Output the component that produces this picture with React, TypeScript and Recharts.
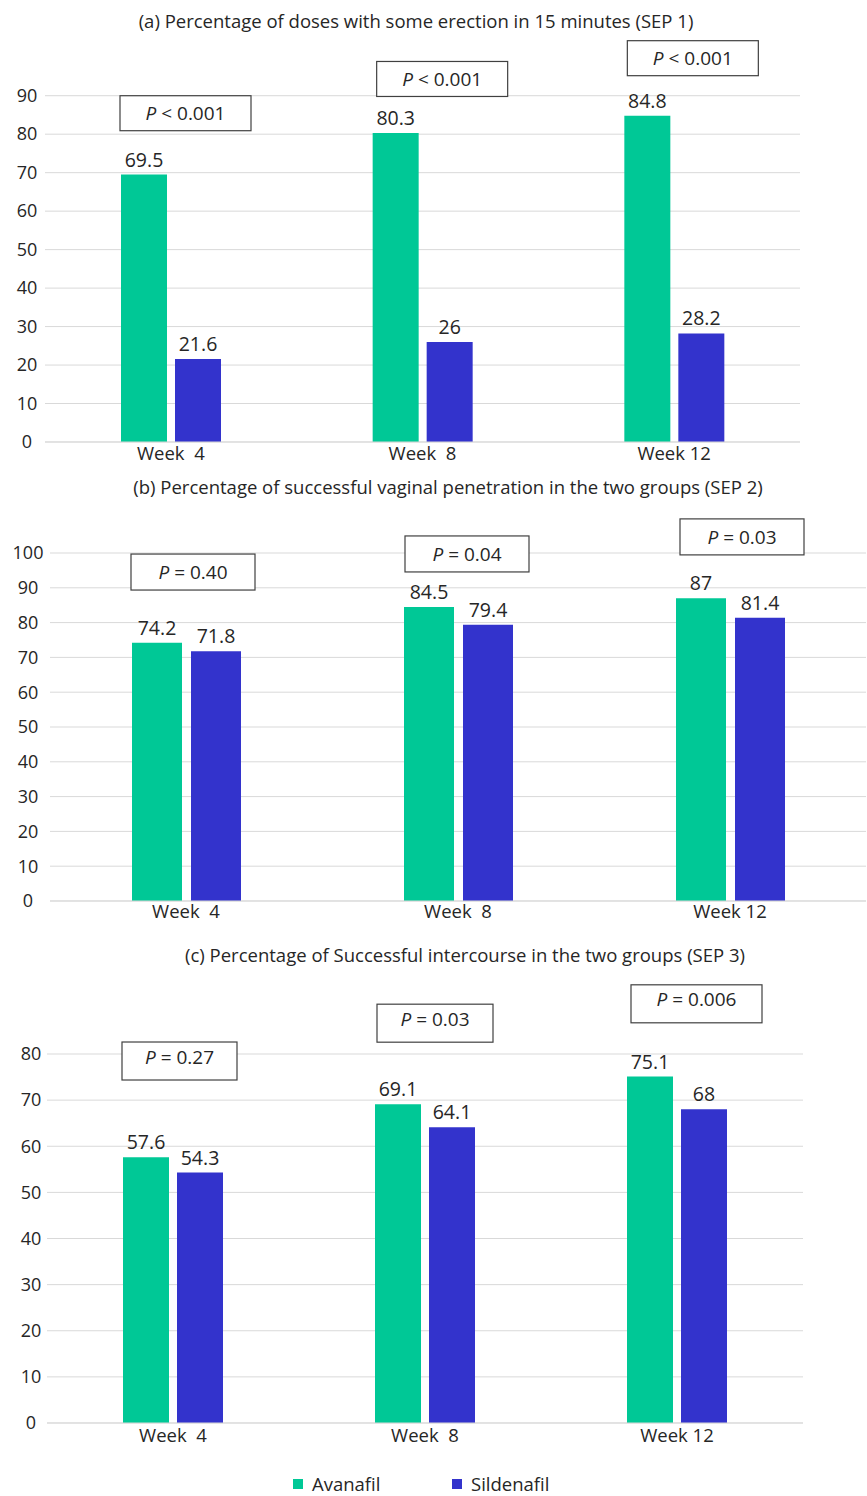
import React from "react";
import { Bar, BarChart, CartesianGrid, LabelList, XAxis, YAxis } from "recharts";

const weeks = ["Week  4", "Week  8", "Week 12"];

// (a) SEP 1
const sep1Avanafil = [69.5, 80.3, 84.8];
const sep1Sildenafil = [21.6, 26, 28.2];
const sep1P = ["< 0.001", "< 0.001", "< 0.001"];
const sep1Ticks = [0, 10, 20, 30, 40, 50, 60, 70, 80, 90];

// (b) SEP 2
const sep2Avanafil = [74.2, 84.5, 87];
const sep2Sildenafil = [71.8, 79.4, 81.4];
const sep2P = ["= 0.40", "= 0.04", "= 0.03"];
const sep2Ticks = [0, 10, 20, 30, 40, 50, 60, 70, 80, 90, 100];

// (c) SEP 3
const sep3Avanafil = [57.6, 69.1, 75.1];
const sep3Sildenafil = [54.3, 64.1, 68];
const sep3P = ["= 0.27", "= 0.03", "= 0.006"];
const sep3Ticks = [0, 10, 20, 30, 40, 50, 60, 70, 80];

const GREEN = "#00c896";
const BLUE = "#3333cc";
const TEXT = "#262626";
const GRID = "#d9d9d9";
const FONT = "'Open Sans', sans-serif";

const charts = [
    {
        title: "(a) Percentage of doses with some erection in 15 minutes (SEP 1)",
        titleX: 416, titleY: 21,
        avanafil: sep1Avanafil, sildenafil: sep1Sildenafil, p: sep1P, ticks: sep1Ticks,
        domain: [0, 105],
        top: 0, height: 475, marginTop: 38, marginRight: 67, yWidth: 45, yLabelX: 27,
        barSize: 46, barGap: 8, xLabelDy: 18,
        boxTop: [90, 98.9, 104.3], boxDx: [-1, 4, 3], boxW: [131, 131, 131], boxH: 35, boxTextDy: 0,
    },
    {
        title: "(b) Percentage of successful vaginal penetration in the two groups (SEP 2)",
        titleX: 448, titleY: 487,
        avanafil: sep2Avanafil, sildenafil: sep2Sildenafil, p: sep2P, ticks: sep2Ticks,
        domain: [0, 110],
        top: 505, height: 429, marginTop: 13.2, marginRight: 1, yWidth: 50, yLabelX: 28,
        barSize: 50, barGap: 9, xLabelDy: 17,
        boxTop: [99.7, 104.9, 109.8], boxDx: [-1, 1, 4], boxW: [124, 124, 124], boxH: 36, boxTextDy: 0,
    },
    {
        title: "(c) Percentage of Successful intercourse in the two groups (SEP 3)",
        titleX: 465, titleY: 955,
        avanafil: sep3Avanafil, sildenafil: sep3Sildenafil, p: sep3P, ticks: sep3Ticks,
        domain: [0, 96],
        top: 970, height: 486, marginTop: 10.2, marginRight: 64, yWidth: 47, yLabelX: 31,
        barSize: 46, barGap: 8, xLabelDy: 19,
        boxTop: [82.6, 90.8, 95], boxDx: [-1, 2, 4], boxW: [115, 116, 131], boxH: 38, boxTextDy: -4,
    },
];

type ChartCfg = (typeof charts)[number];

const makePBox = (cfg: ChartCfg) => (props: any) => {
    const vb = props.viewBox ?? props;
    const i = Number(props.value);
    const { x, y, height } = vb;
    if (x == null || !height) return null;
    const perUnit = height / cfg.avanafil[i];
    const bottom = y + height;
    const boxY = bottom - cfg.boxTop[i] * perUnit;
    const boxX = x + cfg.boxDx[i];
    const w = cfg.boxW[i];
    return (
        <g>
            <rect x={boxX} y={boxY} width={w} height={cfg.boxH} fill="#fff" stroke="#404040" strokeWidth={1.2} />
            <text
                x={boxX + w / 2}
                y={boxY + cfg.boxH / 2 + cfg.boxTextDy}
                dy="0.35em"
                textAnchor="middle"
                fontSize={19}
                fontFamily={FONT}
                fill={TEXT}
            >
                <tspan fontStyle="italic">P</tspan>
                <tspan> {cfg.p[i]}</tspan>
            </text>
        </g>
    );
};

const SepChart = ({ cfg }: { cfg: ChartCfg }) => {
    const rows = weeks.map((week, i) => ({
        week,
        avanafil: cfg.avanafil[i],
        sildenafil: cfg.sildenafil[i],
        idx: i,
    }));

    const YTick = ({ y, payload }: any) => (
        <text x={cfg.yLabelX} y={y} dy="0.35em" textAnchor="middle" fontSize={18} fontFamily={FONT} fill={TEXT}>
            {payload.value}
        </text>
    );

    const XTick = ({ x, y, payload }: any) => (
        <text
            x={x}
            y={y}
            dy={cfg.xLabelDy}
            textAnchor="middle"
            fontSize={18.5}
            fontFamily={FONT}
            fill={TEXT}
            style={{ whiteSpace: "pre" }}
        >
            {payload.value}
        </text>
    );

    // grid only at the labelled ticks, not at the top of the padded domain
    const gridLines = ({ yAxis, offset }: any) => {
        const s = yAxis?.scale;
        if (typeof s === "function") return cfg.ticks.map((t) => s(t));
        if (s && typeof s.map === "function") return cfg.ticks.map((t) => s.map(t));
        const max = cfg.domain[1];
        return cfg.ticks.map((t) => offset.top + offset.height * (1 - t / max));
    };

    return (
        <>
            <div
                style={{
                    position: "absolute",
                    top: cfg.titleY - 12,
                    left: cfg.titleX - 430,
                    width: 860,
                    textAlign: "center",
                    fontSize: 18.5,
                    lineHeight: "24px",
                    color: TEXT,
                    fontFamily: FONT,
                    whiteSpace: "nowrap",
                }}
            >
                {cfg.title}
            </div>
            <div style={{ position: "absolute", top: cfg.top, left: 0 }}>
                <BarChart
                    width={867}
                    height={cfg.height}
                    data={rows}
                    margin={{ top: cfg.marginTop, right: cfg.marginRight, bottom: 0, left: 0 }}
                    barSize={cfg.barSize}
                    barGap={cfg.barGap}
                >
                    <CartesianGrid vertical={false} stroke={GRID} horizontalCoordinatesGenerator={gridLines} />
                    <XAxis
                        dataKey="week"
                        height={33}
                        tickLine={false}
                        tickSize={0}
                        tickMargin={0}
                        axisLine={{ stroke: GRID }}
                        tick={<XTick />}
                    />
                    <YAxis
                        domain={cfg.domain}
                        ticks={cfg.ticks}
                        width={cfg.yWidth}
                        allowDataOverflow
                        axisLine={false}
                        tickLine={false}
                        tickSize={0}
                        tick={<YTick />}
                    />
                    <Bar dataKey="avanafil" name="Avanafil" fill={GREEN} isAnimationActive={false}>
                        <LabelList dataKey="avanafil" position="top" offset={8} fontSize={19.5} fontFamily={FONT} fill={TEXT} />
                        <LabelList dataKey="idx" content={makePBox(cfg)} />
                    </Bar>
                    <Bar dataKey="sildenafil" name="Sildenafil" fill={BLUE} isAnimationActive={false}>
                        <LabelList dataKey="sildenafil" position="top" offset={8} fontSize={19.5} fontFamily={FONT} fill={TEXT} />
                    </Bar>
                </BarChart>
            </div>
        </>
    );
};

const legendItems = [
    { name: "Avanafil", color: GREEN, left: 293 },
    { name: "Sildenafil", color: BLUE, left: 452 },
];

export default function App() {
    return (
        <div
            style={{
                position: "absolute",
                top: 0,
                left: 0,
                width: 867,
                height: 1496,
                background: "#fff",
                fontFamily: FONT,
                overflow: "hidden",
            }}
        >
            {charts.map((cfg) => (
                <SepChart key={cfg.title} cfg={cfg} />
            ))}
            {legendItems.map((item) => (
                <div
                    key={item.name}
                    style={{ position: "absolute", top: 1474, left: item.left, display: "flex", alignItems: "center" }}
                >
                    <span style={{ width: 10, height: 10, background: item.color, display: "inline-block", marginRight: 9 }} />
                    <span style={{ fontSize: 18.5, color: TEXT, lineHeight: "20px" }}>{item.name}</span>
                </div>
            ))}
        </div>
    );
}
